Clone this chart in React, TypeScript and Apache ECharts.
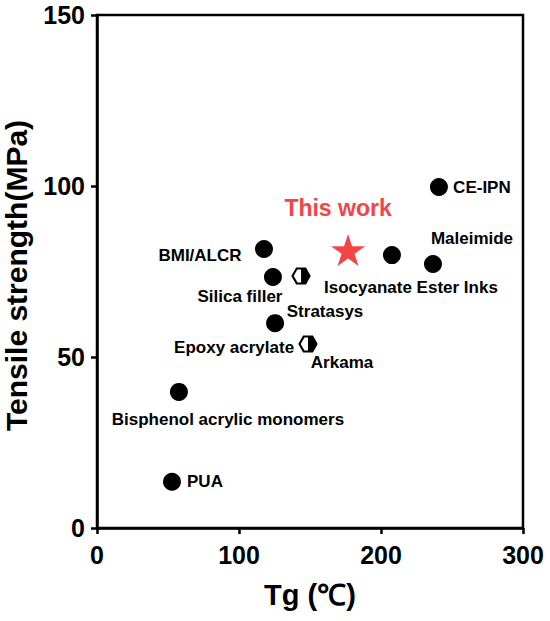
import React, { useEffect, useRef } from "react";
import * as echarts from "echarts";

const xTicks = [0, 100, 200, 300];
const yTicks = [0, 50, 100, 150];

const dotNames = ["CE-IPN", "Maleimide", "Isocyanate Ester Inks", "BMI/ALCR", "Silica filler", "Epoxy acrylate", "Bisphenol acrylic monomers", "PUA"];
const dotTg = [240.8, 236.6, 207.7, 117.6, 123.9, 125.4, 57.7, 52.8];
const dotStrength = [99.7, 77.2, 79.8, 81.6, 73.4, 59.9, 39.8, 13.5];

const hexNames = ["Stratasys", "Arkama"];
const hexTg = [143.7, 148.6];
const hexStrength = [73.7, 53.8];

const starName = "This work";
const starTg = [176.8];
const starStrength = [81.3];

const labelOffset: Record<string, [number, number]> = {
  "CE-IPN": [43, 0],
  Maleimide: [39, -25],
  "Isocyanate Ester Inks": [19, 32],
  "BMI/ALCR": [-64, 7],
  "Silica filler": [-33, 20],
  "Epoxy acrylate": [-41, 24],
  "Bisphenol acrylic monomers": [49, 28],
  PUA: [33, 0],
  Stratasys: [24, 36],
  Arkama: [34, 18],
  "This work": [-10, -42],
};

const FONT = "'Liberation Sans', Arial, sans-serif";
const HEX = "path://M0,50 L25,0 L75,0 L100,50 L75,100 L25,100 Z";
const HALFHEX = "path://M0,0 L50,0 L100,100 L50,200 L0,200 Z";
const STAR = "path://M50,0 L61.2,34.5 L97.6,34.5 L68.2,55.9 L79.4,90.5 L50,69.1 L20.6,90.5 L31.8,55.9 L2.4,34.5 L38.8,34.5 Z";
const RED = "#f24545";

function lbl(name: string, color = "#000", size = 17) {
  return {
    show: true,
    position: "inside",
    offset: labelOffset[name],
    formatter: name,
    color,
    opacity: 1,
    fontSize: size,
    fontWeight: "bold",
    fontFamily: FONT,
  };
}

export default function App() {
  const ref = useRef<HTMLDivElement>(null);
  useEffect(() => {
    if (!ref.current) return;
    const chart = echarts.init(ref.current, null, { renderer: "svg" });
    const dots = dotNames.map((n, i) => ({ value: [dotTg[i], dotStrength[i]], label: lbl(n) }));
    const hexes = hexNames.map((n, i) => ({ value: [hexTg[i], hexStrength[i]], label: lbl(n) }));
    const halves = hexNames.map((n, i) => ({ value: [hexTg[i], hexStrength[i]] }));
    const stars = starTg.map((x, i) => ({ value: [x, starStrength[i]], label: lbl(starName, RED, 23) }));
    const axisCommon = {
      axisLine: { show: true, lineStyle: { color: "#000", width: 2.5 } },
      axisTick: { show: true, inside: false, length: 6, lineStyle: { color: "#000", width: 2.5 } },
      splitLine: { show: false },
    };
    const labelStyle = { color: "#000", fontSize: 25, fontWeight: "bold", fontFamily: FONT };
    chart.setOption({
      animation: false,
      backgroundColor: "#fff",
      grid: {
        left: 97, right: 27, top: 15, bottom: 93,
        containLabel: false, outerBoundsMode: "none",
        show: true, borderColor: "#000", borderWidth: 2.5,
      },
      xAxis: {
        type: "value",
        min: xTicks[0],
        max: xTicks[xTicks.length - 1],
        interval: 100,
        name: "Tg (℃)",
        nameLocation: "middle",
        nameGap: 52,
        nameTextStyle: { color: "#000", fontSize: 29, fontWeight: "bold", fontFamily: FONT },
        ...axisCommon,
        axisLabel: { ...labelStyle, margin: 14 },
      },
      yAxis: {
        type: "value",
        min: yTicks[0],
        max: yTicks[yTicks.length - 1],
        interval: 50,
        name: "Tensile strength(MPa)",
        nameLocation: "middle",
        nameGap: 66,
        nameTextStyle: { color: "#000", fontSize: 30, fontWeight: "bold", fontFamily: FONT, padding: [0, 8, 0, 0] },
        ...axisCommon,
        axisLabel: { ...labelStyle, margin: 12 },
      },
      series: [
        {
          type: "scatter",
          symbol: "circle",
          symbolSize: 18,
          itemStyle: { color: "#000", opacity: 1 },
          data: dots,
        },
        {
          type: "scatter",
          symbol: HEX,
          symbolSize: [17, 15],
          itemStyle: { color: "#fff", borderColor: "#000", borderWidth: 2, opacity: 1 },
          data: hexes,
        },
        {
          type: "scatter",
          symbol: HALFHEX,
          symbolSize: [9, 16],
          symbolOffset: [4.5, 0],
          itemStyle: { color: "#000", opacity: 1 },
          data: halves,
          silent: true,
        },
        {
          type: "scatter",
          symbol: STAR,
          symbolSize: [34, 32],
          itemStyle: { color: RED, opacity: 1 },
          data: stars,
        },
      ],
    });
    return () => chart.dispose();
  }, []);
  return <div ref={ref} style={{ position: "fixed", left: 0, top: 0, width: 550, height: 621 }} />;
}
